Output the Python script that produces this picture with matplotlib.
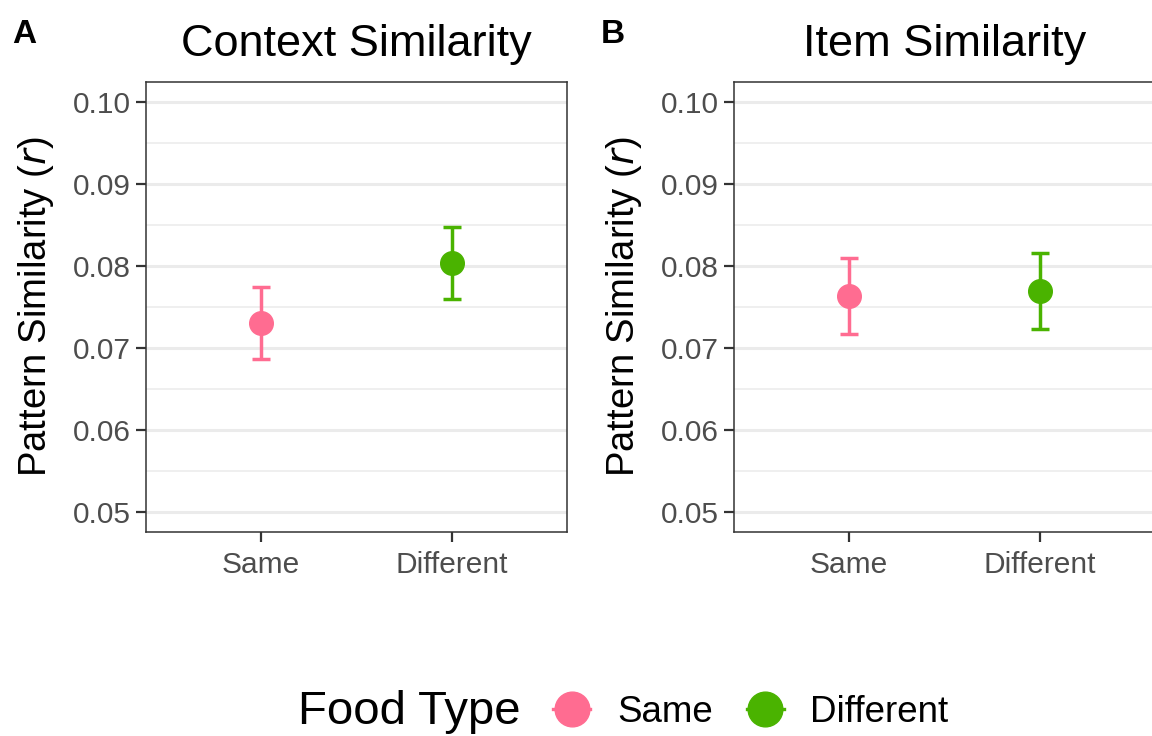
import matplotlib
matplotlib.use('Agg')
import matplotlib.pyplot as plt
import matplotlib.lines as mlines
import numpy

plt.rcParams['font.family'] = ['Liberation Sans', 'DejaVu Sans']

# values
categories = ['Same', 'Different']
colors = ['#FF6C91', '#4AB300']

context_mean = [0.0730, 0.0804]
context_lo = [0.0686, 0.0760]
context_hi = [0.0775, 0.0848]

item_mean = [0.0764, 0.0770]
item_lo = [0.0717, 0.0723]
item_hi = [0.0810, 0.0816]

y_ticks = [0.05, 0.06, 0.07, 0.08, 0.09, 0.10]
y_minor = [0.055, 0.065, 0.075, 0.085, 0.095]

W, H = 1152, 736
fig = plt.figure(figsize=(W / 100, H / 100), dpi=100)

ax_w = 421 / W
ax_h = (532 - 82) / H
ax_b = 1 - 532 / H
axA = fig.add_axes([146 / W, ax_b, ax_w, ax_h])
axB = fig.add_axes([734 / W, ax_b, ax_w, ax_h])


def panel(ax, title, mean, lo, hi):
    x = numpy.arange(1, len(categories) + 1)
    for xi, m, l, h, c in zip(x, mean, lo, hi, colors):
        ax.errorbar([xi], [m], yerr=[[m - l], [h - m]], fmt='none',
                    ecolor=c, elinewidth=2.5, capsize=6.8, capthick=2.5, zorder=3)
        ax.plot([xi], [m], 'o', color=c, markersize=17, zorder=4)

    ax.set_xlim(0.4, 2.6)
    ax.set_ylim(0.0475, 0.1025)
    ax.set_xticks(x)
    ax.set_xticklabels(categories)
    ax.set_yticks(y_ticks)
    ax.set_yticklabels([f'{v:.2f}' for v in y_ticks])
    ax.set_yticks(y_minor, minor=True)

    ax.grid(axis='y', which='major', color='#EBEBEB', linewidth=2.2, zorder=0)
    ax.grid(axis='y', which='minor', color='#EBEBEB', linewidth=1.1, zorder=0)
    ax.set_axisbelow(True)

    ax.tick_params(axis='both', which='major', length=7.5, width=1.6,
                   color='#333333', labelsize=21.5, labelcolor='#4D4D4D', pad=3.5)
    ax.tick_params(axis='x', which='major', pad=6)
    ax.tick_params(axis='y', which='minor', length=0)
    for sp in ax.spines.values():
        sp.set_color('#333333')
        sp.set_linewidth(1.1)

    ax.set_title(title, fontsize=32.5, pad=19)
    ax.set_ylabel('Pattern Similarity ($\\it{r}$)', fontsize=27.5, labelpad=12)


panel(axA, 'Context Similarity', context_mean, context_lo, context_hi)
panel(axB, 'Item Similarity', item_mean, item_lo, item_hi)

fig.text(12 / W, 1 - 43 / H, 'A', fontsize=24, fontweight='bold', va='baseline')
fig.text(601 / W, 1 - 43 / H, 'B', fontsize=24, fontweight='bold', va='baseline')

# legend at the bottom, title on the left
handles = [mlines.Line2D([], [], color=c, marker='o', markersize=25, linewidth=2.4)
           for c in colors]
fig.text(298 / W, 1 - 712 / H, 'Food Type', fontsize=34, va='center', ha='left')
fig.legend(handles, categories, loc='center', bbox_to_anchor=(751 / W, 1 - 712 / H),
           ncol=2, frameon=False, fontsize=26.5, handlelength=1.0,
           handletextpad=0.73, columnspacing=0.92, borderpad=0, borderaxespad=0)

fig.savefig('out.png', dpi=100)
